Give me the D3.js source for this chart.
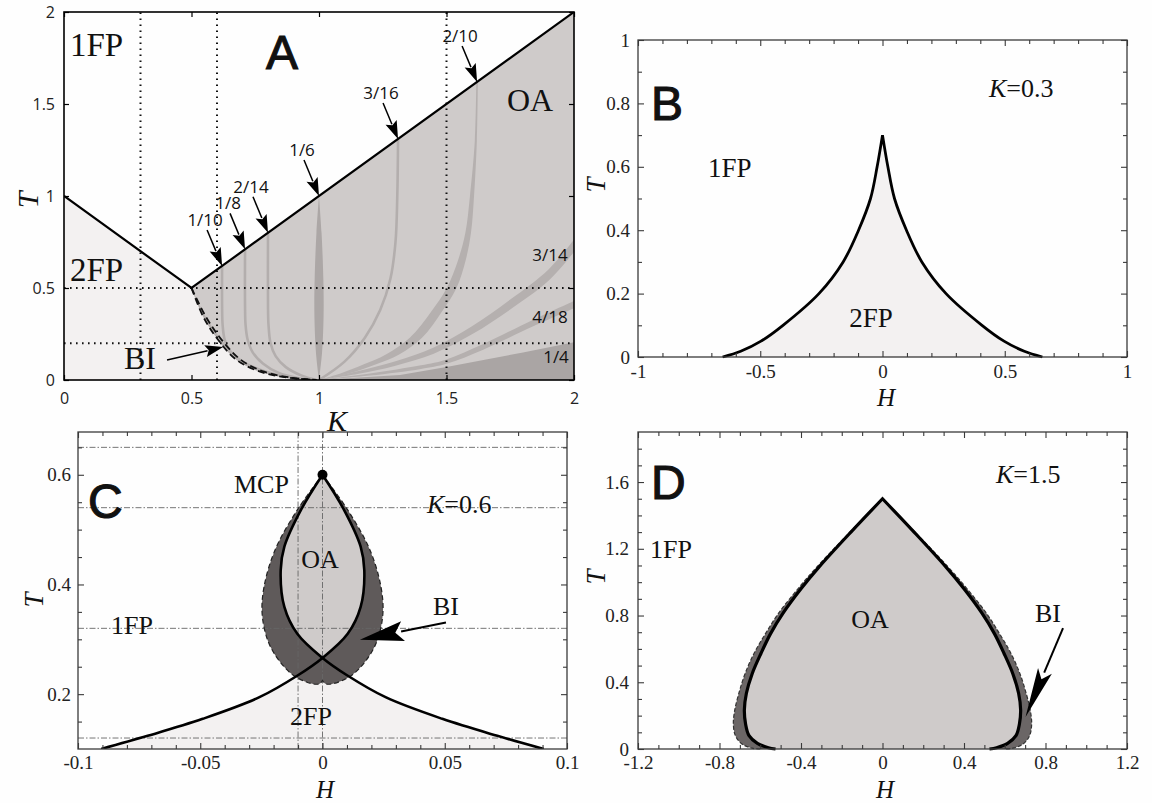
<!DOCTYPE html>
<html>
<head>
<meta charset="utf-8">
<script src="https://cdn.jsdelivr.net/npm/d3@7/dist/d3.min.js"></script>
<style>
  body { margin: 0; background: #fefefe; }
  .ticks-serif text { font-family: 'Liberation Serif', 'Times New Roman', serif !important; }
  .ticks-sans text { font-family: 'Open Sans', sans-serif !important; }
</style>
</head>
<body>
<div id="chart"></div>
<script>
// ---------- panel A : K-T plane ----------
var kTicksA = [0, 0.5, 1, 1.5, 2]
var tTicksA = [0, 0.5, 1, 1.5, 2]
var leftArm = [[0, 1], [0.5, 0.5]]
var rightArm = [[0.5, 0.5], [2, 2]]
var biOuterA = [[0.5, 0.5], [0.546, 0.344], [0.605, 0.217], [0.677, 0.109], [0.769, 0.045], [0.873, 0.014], [0.99, 0]]
var biInnerA = [[0.5, 0.5], [0.558, 0.34], [0.62, 0.215], [0.693, 0.11], [0.785, 0.045], [0.885, 0.014], [0.99, 0]]
var cutsK = [0.3, 0.6, 1.5]
var cutsT = [0.2, 0.5]
var line1_10 = [[0.62, 0.62], [0.62, 0.4], [0.622, 0.3], [0.63, 0.22], [0.65, 0.16], [0.7, 0.1], [0.78, 0.05], [0.88, 0.015], [0.97, 0]]
var line1_8 = [[0.71, 0.71], [0.71, 0.4], [0.712, 0.3], [0.72, 0.22], [0.74, 0.15], [0.78, 0.09], [0.84, 0.04], [0.92, 0.01], [0.98, 0]]
var line2_14 = [[0.8, 0.8], [0.8, 0.4], [0.802, 0.3], [0.81, 0.2], [0.83, 0.13], [0.87, 0.07], [0.93, 0.025], [0.99, 0]]
var line3_16 = [[1.31, 1.31], [1.307, 1.0], [1.3, 0.75], [1.28, 0.55], [1.24, 0.38], [1.18, 0.23], [1.1, 0.1], [1.0, 0]]
// [K, T, half width in K]
var spindle1_6 = [[1, 1, 0], [1, 0.8, 0.01], [1, 0.55, 0.017], [1, 0.35, 0.018], [1, 0.15, 0.012], [1, 0, 0]]
var band2_10 = [[1.62, 1.62, 0.003], [1.615, 1.3, 0.004], [1.6, 1.0, 0.008], [1.585, 0.8, 0.011], [1.56, 0.65, 0.015],
  [1.52, 0.5, 0.019], [1.46, 0.37, 0.021], [1.38, 0.23, 0.024], [1.29, 0.14, 0.026], [1.2, 0.085, 0.024], [1.1, 0.035, 0.016], [1.0, 0, 0.002]]
// [K, T, half width in T]
var band3_14 = [[1, 0, 0.001], [1.15, 0.04, 0.008], [1.3, 0.09, 0.012], [1.45, 0.16, 0.017], [1.6, 0.27, 0.022], [1.75, 0.41, 0.027], [1.9, 0.57, 0.031], [2, 0.73, 0.034]]
var band4_18 = [[1, 0, 0.001], [1.2, 0.03, 0.006], [1.4, 0.07, 0.01], [1.5, 0.1, 0.012], [1.644, 0.18, 0.015], [1.84, 0.31, 0.018], [2, 0.41, 0.02]]
var wedge1_4 = [[1, 0], [1.318, 0.027], [1.5, 0.07], [1.65, 0.11], [1.8, 0.15], [2, 0.205], [2, 0]]
var arrowTongues = ['1/10', '1/8', '2/14', '1/6', '3/16', '2/10']
var arrowTongueK = [0.62, 0.71, 0.8, 1, 1.31, 1.62]
var sideTongues = ['3/14', '4/18', '1/4']

// ---------- panel B : K = 0.3 ----------
var hTicksB = [-1, -0.5, 0, 0.5, 1]
var tTicksB = [0, 0.2, 0.4, 0.6, 0.8, 1]
var fp2Left = [[-0.654, 0], [-0.58, 0.018], [-0.497, 0.05], [-0.407, 0.1], [-0.26, 0.2], [-0.161, 0.3], [-0.098, 0.4], [-0.049, 0.5], [-0.022, 0.6], [0, 0.7]]
var fp2Right = [[0, 0.7], [0.022, 0.6], [0.049, 0.5], [0.098, 0.4], [0.161, 0.3], [0.26, 0.2], [0.407, 0.1], [0.497, 0.05], [0.58, 0.018], [0.654, 0]]

// ---------- panel C : K = 0.6 ----------
var hTicksC = [-0.1, -0.05, 0, 0.05, 0.1]
var tTicksC = [0.2, 0.4, 0.6]
var gridTC = [0.12, 0.32, 0.54, 0.65]
var gridHC = [-0.01, 0]
var mcp = [0, 0.6]
var crossIdx = 6
var curveRC = [[0, 0.6], [0.0088, 0.536], [0.0156, 0.469], [0.0171, 0.426], [0.0156, 0.359], [0.0103, 0.31], [0, 0.266],
  [-0.0102, 0.234], [-0.026, 0.194], [-0.049, 0.155], [-0.0715, 0.124], [-0.0905, 0.1]]
var curveLC = [[0, 0.6], [-0.0088, 0.536], [-0.0156, 0.469], [-0.0171, 0.426], [-0.0156, 0.359], [-0.0103, 0.31], [0, 0.266],
  [0.0102, 0.234], [0.026, 0.194], [0.049, 0.155], [0.0715, 0.124], [0.0905, 0.1]]
var biRightC = [[0, 0.6], [0.0103, 0.536], [0.0194, 0.463], [0.0239, 0.396], [0.0247, 0.347], [0.0224, 0.298], [0.0179, 0.262], [0.0118, 0.234], [0.0042, 0.219], [0.0012, 0.219], [0, 0.225]]
var biLeftC = [[0, 0.225], [-0.0012, 0.219], [-0.0042, 0.219], [-0.0118, 0.234], [-0.0179, 0.262], [-0.0224, 0.298], [-0.0247, 0.347], [-0.0239, 0.396], [-0.0194, 0.463], [-0.0103, 0.536], [0, 0.6]]

// ---------- panel D : K = 1.5 ----------
var hTicksD = [-1.2, -0.8, -0.4, 0, 0.4, 0.8, 1.2]
var tTicksD = [0, 0.4, 0.8, 1.2, 1.6]
var oaLeftD = [[-0.525, 0], [-0.56, 0.008], [-0.614, 0.034], [-0.655, 0.08], [-0.672, 0.15], [-0.678, 0.234], [-0.668, 0.334], [-0.64, 0.45], [-0.596, 0.574], [-0.55, 0.69], [-0.488, 0.814], [-0.4, 0.96], [-0.309, 1.094], [-0.155, 1.3], [0, 1.5]]
var oaRightD = [[0, 1.5], [0.155, 1.3], [0.309, 1.094], [0.4, 0.96], [0.488, 0.814], [0.55, 0.69], [0.596, 0.574], [0.64, 0.45], [0.668, 0.334], [0.678, 0.234], [0.672, 0.15], [0.655, 0.08], [0.614, 0.034], [0.56, 0.008], [0.525, 0]]
var biLeftD = [[-0.6, 0], [-0.64, 0.005], [-0.69, 0.03], [-0.722, 0.08], [-0.732, 0.15], [-0.725, 0.234], [-0.705, 0.334], [-0.675, 0.45], [-0.63, 0.574], [-0.575, 0.69], [-0.51, 0.814], [-0.415, 0.96], [-0.32, 1.094], [-0.16, 1.3], [0, 1.5]]
var biRightD = [[0, 1.5], [0.16, 1.3], [0.32, 1.094], [0.415, 0.96], [0.51, 0.814], [0.575, 0.69], [0.63, 0.574], [0.675, 0.45], [0.705, 0.334], [0.725, 0.234], [0.732, 0.15], [0.722, 0.08], [0.69, 0.03], [0.64, 0.005], [0.6, 0]]

// ---------- helpers ----------
var SERIF = 'Liberation Serif, Times New Roman, serif'
var SANS = 'Open Sans, sans-serif'
var HELV = 'Liberation Sans, Arial, sans-serif'

var svg = d3.select('#chart').append('svg').attr('width', 1152).attr('height', 803)
svg.append('rect').attr('width', 1152).attr('height', 803).attr('fill', '#fefefe')
var defs = svg.append('defs')

function smooth(x, y) {
  return d3.line().x(function (d) { return x(d[0]) }).y(function (d) { return y(d[1]) }).curve(d3.curveCatmullRom.alpha(0.5))
}
function straight(x, y) {
  return d3.line().x(function (d) { return x(d[0]) }).y(function (d) { return y(d[1]) })
}
function joined(parts) {
  // parts: list of [lineGenerator, points]
  return parts.map(function (p, i) {
    var s = p[0](p[1])
    return i ? 'L' + s.slice(1) : s
  }).join('') + 'Z'
}
function ribbonK(pts) {
  return [pts.map(function (p) { return [p[0] + p[2], p[1]] }), pts.map(function (p) { return [p[0] - p[2], p[1]] }).reverse()]
}
function ribbonT(pts) {
  return [pts.map(function (p) { return [p[0], p[1] + p[2]] }), pts.map(function (p) { return [p[0], p[1] - p[2]] }).reverse()]
}
function tickText(d) { return String(d) }

function axes(g, x, y, o) {
  var xr = x.range(), yr = y.range()
  function style(sel) {
    sel.attr('class', o.cls).attr('font-family', o.font).attr('font-size', o.fontSize)
    sel.select('.domain').remove()
    sel.selectAll('.tick line').attr('stroke', o.color).attr('stroke-width', o.tickWidth)
    sel.selectAll('.tick text').attr('fill', o.textColor).attr('font-family', o.font).attr('font-size', o.fontSize)
  }
  if (o.xMinor) {
    g.append('g').attr('transform', 'translate(0,' + yr[0] + ')').call(d3.axisBottom(x).tickValues(o.xMinor).tickSize(-o.minor).tickFormat('')).call(style)
    g.append('g').attr('transform', 'translate(0,' + yr[1] + ')').call(d3.axisTop(x).tickValues(o.xMinor).tickSize(-o.minor).tickFormat('')).call(style)
  }
  if (o.yMinor) {
    g.append('g').attr('transform', 'translate(' + xr[0] + ',0)').call(d3.axisLeft(y).tickValues(o.yMinor).tickSize(-o.minor).tickFormat('')).call(style)
    g.append('g').attr('transform', 'translate(' + xr[1] + ',0)').call(d3.axisRight(y).tickValues(o.yMinor).tickSize(-o.minor).tickFormat('')).call(style)
  }
  g.append('g').attr('transform', 'translate(0,' + yr[0] + ')')
    .call(d3.axisBottom(x).tickValues(o.xMajor).tickSize(-o.major).tickPadding(o.padX).tickFormat(tickText)).call(style)
  g.append('g').attr('transform', 'translate(0,' + yr[1] + ')')
    .call(d3.axisTop(x).tickValues(o.xMajor).tickSize(-o.major).tickFormat('')).call(style)
  g.append('g').attr('transform', 'translate(' + xr[0] + ',0)')
    .call(d3.axisLeft(y).tickValues(o.yMajor).tickSize(-o.major).tickPadding(o.padY).tickFormat(tickText)).call(style)
  g.append('g').attr('transform', 'translate(' + xr[1] + ',0)')
    .call(d3.axisRight(y).tickValues(o.yMajor).tickSize(-o.major).tickFormat('')).call(style)
  g.append('rect').attr('x', xr[0]).attr('y', yr[1]).attr('width', xr[1] - xr[0]).attr('height', yr[0] - yr[1])
    .attr('fill', 'none').attr('stroke', o.color).attr('stroke-width', o.frameWidth)
}

function text(g, x, y, str, size, family, anchor) {
  return g.append('text').attr('x', x).attr('y', y).attr('font-size', size).attr('font-family', family)
    .attr('text-anchor', anchor || 'start').attr('fill', '#111').text(str)
}
function panelLetter(g, x, y, str, anchor) {
  text(g, x, y, str, 48, HELV, anchor).attr('stroke', '#111').attr('stroke-width', 1.1)
}
function kLabel(g, x, y, value, size) {
  var t = g.append('text').attr('x', x).attr('y', y).attr('font-size', size).attr('font-family', SERIF).attr('fill', '#111')
  t.append('tspan').attr('font-style', 'italic').text('K')
  t.append('tspan').text('=' + value)
}
function axisName(g, x, y, str, size, rotate) {
  g.append('text').attr('transform', 'translate(' + x + ',' + y + ')' + (rotate ? ' rotate(-90)' : ''))
    .attr('text-anchor', 'middle').attr('dominant-baseline', rotate ? 'central' : 'auto')
    .attr('font-size', size).attr('font-family', SERIF).attr('font-style', 'italic').attr('fill', '#111').text(str)
}
function arrow(g, x1, y1, x2, y2, len, wid, sw) {
  var dx = x2 - x1, dy = y2 - y1, L = Math.hypot(dx, dy), ux = dx / L, uy = dy / L
  var bx = x2 - ux * len, by = y2 - uy * len
  g.append('line').attr('x1', x1).attr('y1', y1).attr('x2', bx + ux * 2).attr('y2', by + uy * 2)
    .attr('stroke', '#000').attr('stroke-width', sw)
  g.append('path').attr('fill', '#000')
    .attr('d', 'M' + x2 + ',' + y2 + 'L' + (bx - uy * wid / 2) + ',' + (by + ux * wid / 2) +
      'L' + (bx + ux * len * 0.18) + ',' + (by + uy * len * 0.18) +
      'L' + (bx + uy * wid / 2) + ',' + (by - ux * wid / 2) + 'Z')
}

// ========== panel A ==========
var xA = d3.scaleLinear().domain([0, 2]).range([64, 574])
var yA = d3.scaleLinear().domain([0, 2]).range([380, 12])
var sA = smooth(xA, yA), lnA = straight(xA, yA)
defs.append('clipPath').attr('id', 'clipA').append('rect').attr('x', 64).attr('y', 12).attr('width', 510).attr('height', 368)
var gA = svg.append('g')
var pA = gA.append('g').attr('clip-path', 'url(#clipA)')

pA.append('path').attr('fill', '#f3f1f1')
  .attr('d', joined([[lnA, [[0, 0]].concat(leftArm)], [sA, biOuterA]]))
pA.append('path').attr('fill', '#cfcbca')
  .attr('d', joined([[lnA, rightArm.concat([[2, 0]])], [sA, biOuterA.slice().reverse()]]))
pA.append('path').attr('fill', '#aaa5a4').attr('d', lnA(wedge1_4) + 'Z')
;[band3_14, band4_18].forEach(function (b) {
  var r = ribbonT(b)
  pA.append('path').attr('fill', '#b5b0af').attr('d', joined([[sA, r[0]], [sA, r[1]]]))
})
var r210 = ribbonK(band2_10)
pA.append('path').attr('fill', '#b5b0af').attr('d', joined([[sA, r210[0]], [sA, r210[1]]]))
var rs = ribbonK(spindle1_6)
pA.append('path').attr('fill', '#aca7a6').attr('d', joined([[sA, rs[0]], [sA, rs[1]]]))
;[line1_10, line1_8, line2_14, line3_16].forEach(function (l) {
  pA.append('path').attr('fill', 'none').attr('stroke', '#b3aead').attr('stroke-width', 2.6).attr('d', sA(l))
})
pA.append('path').attr('fill', '#b7b2b1')
  .attr('d', joined([[sA, biOuterA], [sA, biInnerA.slice().reverse()]]))

cutsK.forEach(function (k) {
  pA.append('line').attr('x1', xA(k)).attr('x2', xA(k)).attr('y1', yA(0)).attr('y2', yA(2))
    .attr('stroke', '#111').attr('stroke-width', 2).attr('stroke-dasharray', '1.6,4.4')
})
cutsT.forEach(function (t) {
  pA.append('line').attr('x1', xA(0)).attr('x2', xA(2)).attr('y1', yA(t)).attr('y2', yA(t))
    .attr('stroke', '#111').attr('stroke-width', 2).attr('stroke-dasharray', '1.6,4.4')
})
;[biOuterA, biInnerA].forEach(function (b) {
  pA.append('path').attr('fill', 'none').attr('stroke', '#111').attr('stroke-width', 1.8)
    .attr('stroke-dasharray', '7,4').attr('d', sA(b))
})
pA.append('path').attr('fill', 'none').attr('stroke', '#000').attr('stroke-width', 2.2)
  .attr('d', lnA(leftArm.concat(rightArm.slice(1))))

axes(gA, xA, yA, {
  xMajor: kTicksA, yMajor: tTicksA, major: 5, color: '#000', textColor: '#222', tickWidth: 1.2, frameWidth: 1.6,
  font: SANS, cls: 'ticks-sans', fontSize: 16, padX: 13, padY: 9
})

arrowTongueK.forEach(function (k, i) {
  var tx = xA(k), ty = yA(k)
  arrow(gA, tx - 15, ty - 36, tx, ty, 18, 12, 1.5)
  text(gA, tx - 17, ty - 40, arrowTongues[i], 17, SANS, 'middle')
})
text(gA, 550, 261, sideTongues[0], 17, SANS, 'middle')
text(gA, 550, 323, sideTongues[1], 17, SANS, 'middle')
text(gA, 556, 363, sideTongues[2], 17, SANS, 'middle')
arrow(gA, xA(0.404), yA(0.109), xA(0.624), yA(0.179), 18, 12, 1.5)

text(gA, 70, 56, '1FP', 33, SERIF)
text(gA, 70, 281, '2FP', 33, SERIF)
text(gA, 507, 111, 'OA', 32, SERIF)
text(gA, 124, 369, 'BI', 32, SERIF)
panelLetter(gA, 282, 69, 'A', 'middle')
axisName(gA, 27, 200, 'T', 30, true)
axisName(gA, 337, 431, 'K', 30, false)

// ========== panel B ==========
var xB = d3.scaleLinear().domain([-1, 1]).range([638, 1127])
var yB = d3.scaleLinear().domain([0, 1]).range([357, 40])
var sB = smooth(xB, yB)
var gB = svg.append('g')
gB.append('path').attr('fill', '#f3f1f1').attr('stroke', '#000').attr('stroke-width', 2.8)
  .attr('d', sB(fp2Left) + 'L' + sB(fp2Right).slice(1))
axes(gB, xB, yB, {
  xMajor: hTicksB, yMajor: tTicksB,
  xMinor: d3.range(-9, 10).map(function (i) { return i / 10 }).filter(function (v) { return hTicksB.indexOf(v) < 0 }),
  yMinor: d3.range(1, 10, 2).map(function (i) { return i / 10 }),
  major: 6, minor: 4, color: '#3a3a3a', textColor: '#222', tickWidth: 1.1, frameWidth: 1.3,
  font: SERIF, cls: 'ticks-serif', fontSize: 19, padX: 8, padY: 8
})
panelLetter(gB, 651, 120, 'B')
kLabel(gB, 989, 97, '0.3', 26)
text(gB, 708, 177, '1FP', 27, SERIF)
text(gB, 871, 327, '2FP', 27, SERIF, 'middle')
axisName(gB, 596, 185, 'T', 27, true)
axisName(gB, 886, 406, 'H', 25, false)

// ========== panel C ==========
var xC = d3.scaleLinear().domain([-0.1, 0.1]).range([78, 567])
var yC = d3.scaleLinear().domain([0.1, 0.678]).range([749, 432])
var sC = smooth(xC, yC)
var gC = svg.append('g')
defs.append('clipPath').attr('id', 'clipC').append('rect').attr('x', 78).attr('y', 432).attr('width', 489).attr('height', 317)
var pC = gC.append('g').attr('clip-path', 'url(#clipC)')

pC.append('path').attr('fill', '#f3f1f1')
  .attr('d', joined([[sC, curveRC.slice(crossIdx).reverse()], [sC, curveLC.slice(crossIdx)]]))
pC.append('path').attr('fill', '#5f5a5a')
  .attr('d', joined([[sC, biRightC], [sC, biLeftC]]))
pC.append('path').attr('fill', '#cfcbca')
  .attr('d', joined([[sC, curveRC.slice(0, crossIdx + 1)], [sC, curveLC.slice(0, crossIdx + 1).reverse()]]))
gridTC.forEach(function (t) {
  pC.append('line').attr('x1', xC(-0.1)).attr('x2', xC(0.1)).attr('y1', yC(t)).attr('y2', yC(t))
    .attr('stroke', '#666').attr('stroke-width', 0.9).attr('stroke-dasharray', '6,2,1.5,2')
})
gridHC.forEach(function (h) {
  pC.append('line').attr('x1', xC(h)).attr('x2', xC(h)).attr('y1', yC(0.1)).attr('y2', yC(0.678))
    .attr('stroke', '#666').attr('stroke-width', 0.9).attr('stroke-dasharray', '6,2,1.5,2')
})
pC.append('path').attr('fill', 'none').attr('stroke', '#222').attr('stroke-width', 1.2).attr('stroke-dasharray', '5,3')
  .attr('d', sC(biRightC) + 'L' + sC(biLeftC).slice(1))
;[curveRC, curveLC].forEach(function (c) {
  pC.append('path').attr('fill', 'none').attr('stroke', '#000').attr('stroke-width', 2.6).attr('d', sC(c))
})
pC.append('circle').attr('cx', xC(mcp[0])).attr('cy', yC(mcp[1])).attr('r', 5).attr('fill', '#000')

axes(gC, xC, yC, {
  xMajor: hTicksC, yMajor: tTicksC,
  xMinor: d3.range(-9, 10).map(function (i) { return i / 100 }).filter(function (v) { return Math.abs(v * 100) % 5 !== 0 }),
  yMinor: [0.15, 0.25, 0.3, 0.35, 0.45, 0.5, 0.55, 0.65],
  major: 6, minor: 4, color: '#3a3a3a', textColor: '#222', tickWidth: 1.1, frameWidth: 1.3,
  font: SERIF, cls: 'ticks-serif', fontSize: 19, padX: 7, padY: 7
})
arrow(gC, xC(0.0505), yC(0.3305), xC(0.0153), yC(0.2994), 44, 20, 2)
panelLetter(gC, 88, 518, 'C')
text(gC, 234, 493, 'MCP', 26, SERIF)
kLabel(gC, 427, 513, '0.6', 26)
text(gC, 320, 568, 'OA', 26, SERIF, 'middle')
text(gC, 433, 615, 'BI', 26, SERIF)
text(gC, 111, 634, '1FP', 26, SERIF)
text(gC, 311, 725, '2FP', 26, SERIF, 'middle')
axisName(gC, 34, 600, 'T', 27, true)
axisName(gC, 325, 798, 'H', 25, false)

// ========== panel D ==========
var xD = d3.scaleLinear().domain([-1.2, 1.2]).range([638, 1127])
var yD = d3.scaleLinear().domain([0, 1.9]).range([749, 432])
var sD = smooth(xD, yD)
var gD = svg.append('g')
gD.append('path').attr('fill', '#6b6666').attr('d', joined([[sD, biLeftD], [sD, biRightD]]))
gD.append('path').attr('fill', '#cfcbca').attr('d', joined([[sD, oaLeftD], [sD, oaRightD]]))
gD.append('path').attr('fill', 'none').attr('stroke', '#333').attr('stroke-width', 1.2).attr('stroke-dasharray', '4,2')
  .attr('d', sD(biLeftD) + 'L' + sD(biRightD).slice(1))
gD.append('path').attr('fill', 'none').attr('stroke', '#000').attr('stroke-width', 3.2)
  .attr('d', sD(oaLeftD) + 'L' + sD(oaRightD).slice(1))
axes(gD, xD, yD, {
  xMajor: hTicksD, yMajor: tTicksD,
  xMinor: d3.range(-11, 12).map(function (i) { return i / 10 }).filter(function (v) { return Math.abs(Math.round(v * 10)) % 4 !== 0 }),
  yMinor: d3.range(1, 19).map(function (i) { return i / 10 }).filter(function (v) { return Math.round(v * 10) % 4 !== 0 }),
  major: 6, minor: 4, color: '#3a3a3a', textColor: '#222', tickWidth: 1.1, frameWidth: 1.3,
  font: SERIF, cls: 'ticks-serif', fontSize: 19, padX: 7, padY: 9
})
arrow(gD, xD(0.886), yD(0.725), xD(0.702), yD(0.192), 50, 15, 2)
panelLetter(gD, 651, 499, 'D')
kLabel(gD, 996, 483, '1.5', 26)
text(gD, 650, 558, '1FP', 26, SERIF)
text(gD, 870, 628, 'OA', 26, SERIF, 'middle')
text(gD, 1035, 622, 'BI', 26, SERIF)
axisName(gD, 596, 577, 'T', 27, true)
axisName(gD, 885, 798, 'H', 25, false)
</script>
</body>
</html>
